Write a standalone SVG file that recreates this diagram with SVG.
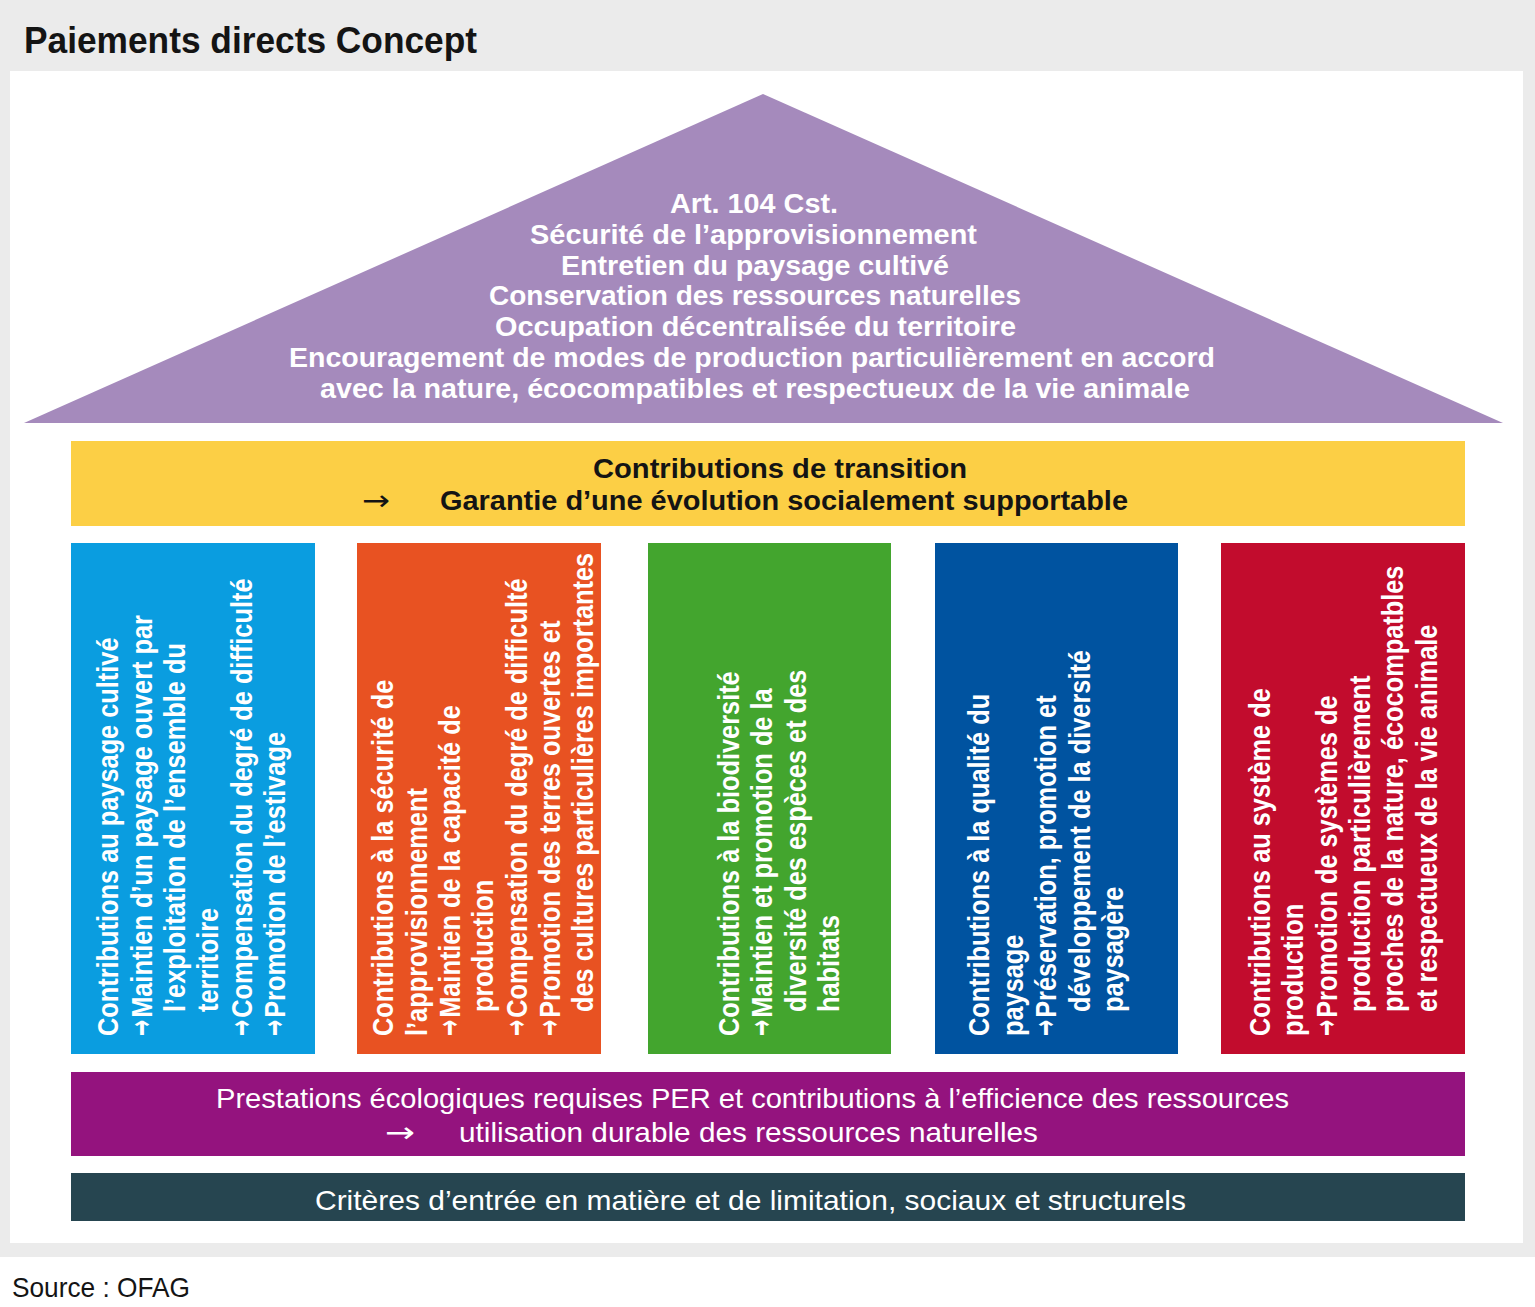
<svg xmlns="http://www.w3.org/2000/svg" width="1535" height="1307" viewBox="0 0 1535 1307">
<style>
.f{font-family:"Liberation Sans","DejaVu Sans",sans-serif}
.b{font-weight:bold}
.w{fill:#ffffff}
.k{fill:#141414}
.roof{font-size:28px;font-weight:bold;fill:#ffffff}
.band{font-size:28px}
.arr{font-family:"DejaVu Sans",sans-serif;font-size:28px}
.pt{font-family:"Liberation Sans","DejaVu Sans",sans-serif;font-weight:bold;font-size:30px;fill:#ffffff}
.ar{font-family:"DejaVu Sans",sans-serif;font-size:32px;font-weight:bold}
</style>
<rect x="0" y="0" width="1535" height="1307" fill="#ffffff"/>
<rect x="0" y="0" width="1535" height="1257" fill="#ebebeb"/>
<rect x="10" y="71" width="1513" height="1172" fill="#ffffff"/>
<g id="title">
<text class="f b k" x="24" y="53" font-size="36" textLength="453" lengthAdjust="spacingAndGlyphs">Paiements directs Concept</text>
</g>
<g id="roof">
<polygon points="763,94 24,423 1503,423" fill="#a58abc"/>
<text class="f roof" x="670" y="213" textLength="168" lengthAdjust="spacingAndGlyphs">Art. 104 Cst.</text>
<text class="f roof" x="530" y="244" textLength="447" lengthAdjust="spacingAndGlyphs">Sécurité de l’approvisionnement</text>
<text class="f roof" x="561" y="275" textLength="388" lengthAdjust="spacingAndGlyphs">Entretien du paysage cultivé</text>
<text class="f roof" x="489" y="305" textLength="532" lengthAdjust="spacingAndGlyphs">Conservation des ressources naturelles</text>
<text class="f roof" x="495" y="336" textLength="521" lengthAdjust="spacingAndGlyphs">Occupation décentralisée du territoire</text>
<text class="f roof" x="289" y="367" textLength="926" lengthAdjust="spacingAndGlyphs">Encouragement de modes de production particulièrement en accord</text>
<text class="f roof" x="320" y="398" textLength="870" lengthAdjust="spacingAndGlyphs">avec la nature, écocompatibles et respectueux de la vie animale</text>
</g>
<g id="transition">
<rect x="71" y="441" width="1394" height="85" fill="#fccf45"/>
<text class="f b k band" x="593" y="478" textLength="374" lengthAdjust="spacingAndGlyphs">Contributions de transition</text>
<text class="arr k" x="362" y="510" textLength="28" lengthAdjust="spacingAndGlyphs">→</text>
<text class="f b k band" x="440" y="510" textLength="688" lengthAdjust="spacingAndGlyphs">Garantie d’une évolution socialement supportable</text>
</g>
<g id="pillar-paysage">
<rect x="71" y="543" width="244" height="511" fill="#0a9de0"/>
<g class="pt" transform="translate(71,1036) rotate(-90) scale(0.845,1)">
<text x="0" y="47">Contributions au paysage cultivé</text>
<text class="ar" x="0" y="81" textLength="19" lengthAdjust="spacingAndGlyphs">→</text><text x="21.5" y="81">Maintien d’un paysage ouvert par</text>
<text x="28.4" y="114">l’exploitation de l’ensemble du</text>
<text x="28.4" y="147">territoire</text>
<text class="ar" x="0" y="181" textLength="19" lengthAdjust="spacingAndGlyphs">→</text><text x="21.5" y="181">Compensation du degré de difficulté</text>
<text class="ar" x="0" y="214" textLength="19" lengthAdjust="spacingAndGlyphs">→</text><text x="21.5" y="214">Promotion de l’estivage</text>
</g>
</g>
<g id="pillar-securite">
<rect x="357" y="543" width="244" height="511" fill="#e85222"/>
<g class="pt" transform="translate(357,1036) rotate(-90) scale(0.845,1)">
<text x="0" y="36">Contributions à la sécurité de</text>
<text x="0" y="70">l’approvisionnement</text>
<text class="ar" x="0" y="103" textLength="19" lengthAdjust="spacingAndGlyphs">→</text><text x="21.5" y="103">Maintien de la capacité de</text>
<text x="28.4" y="136">production</text>
<text class="ar" x="0" y="170" textLength="19" lengthAdjust="spacingAndGlyphs">→</text><text x="21.5" y="170">Compensation du degré de difficulté</text>
<text class="ar" x="0" y="203" textLength="19" lengthAdjust="spacingAndGlyphs">→</text><text x="21.5" y="203">Promotion des terres ouvertes et</text>
<text x="28.4" y="236">des cultures particulières importantes</text>
</g>
</g>
<g id="pillar-biodiversite">
<rect x="648" y="543" width="243" height="511" fill="#43a52e"/>
<g class="pt" transform="translate(648,1036) rotate(-90) scale(0.845,1)">
<text x="0" y="91">Contributions à la biodiversité</text>
<text class="ar" x="0" y="124.5" textLength="19" lengthAdjust="spacingAndGlyphs">→</text><text x="21.5" y="124.5">Maintien et promotion de la</text>
<text x="28.4" y="158">diversité des espèces et des</text>
<text x="28.4" y="191.5">habitats</text>
</g>
</g>
<g id="pillar-qualite">
<rect x="935" y="543" width="243" height="511" fill="#0053a0"/>
<g class="pt" transform="translate(935,1036) rotate(-90) scale(0.845,1)">
<text x="0" y="54.5">Contributions à la qualité du</text>
<text x="0" y="88">paysage</text>
<text class="ar" x="0" y="121.5" textLength="19" lengthAdjust="spacingAndGlyphs">→</text><text x="21.5" y="121.5">Préservation, promotion et</text>
<text x="28.4" y="155">développement de la diversité</text>
<text x="28.4" y="188.5">paysagère</text>
</g>
</g>
<g id="pillar-systeme">
<rect x="1221" y="543" width="244" height="511" fill="#c20c2d"/>
<g class="pt" transform="translate(1221,1036) rotate(-90) scale(0.845,1)">
<text x="0" y="49">Contributions au système de</text>
<text x="0" y="82">production</text>
<text class="ar" x="0" y="116" textLength="19" lengthAdjust="spacingAndGlyphs">→</text><text x="21.5" y="116">Promotion de systèmes de</text>
<text x="28.4" y="149">production particulièrement</text>
<text x="28.4" y="182">proches de la nature, écocompatbles</text>
<text x="28.4" y="216">et respectueux de la vie animale</text>
</g>
</g>
<g id="per">
<rect x="71" y="1072" width="1394" height="84" fill="#94137e"/>
<text class="f w band" x="216" y="1108" textLength="1073" lengthAdjust="spacingAndGlyphs">Prestations écologiques requises PER et contributions à l’efficience des ressources</text>
<text class="arr w" x="385" y="1142" textLength="30" lengthAdjust="spacingAndGlyphs">→</text>
<text class="f w band" x="459" y="1142" textLength="579" lengthAdjust="spacingAndGlyphs">utilisation durable des ressources naturelles</text>
</g>
<g id="criteres">
<rect x="71" y="1173" width="1394" height="48" fill="#264550"/>
<text class="f w band" x="315" y="1210" textLength="871" lengthAdjust="spacingAndGlyphs">Critères d’entrée en matière et de limitation, sociaux et structurels</text>
</g>
<g id="connectors"></g>
<g id="source">
<text class="f k" x="12" y="1297" font-size="28" textLength="178" lengthAdjust="spacingAndGlyphs">Source : OFAG</text>
</g>
</svg>
